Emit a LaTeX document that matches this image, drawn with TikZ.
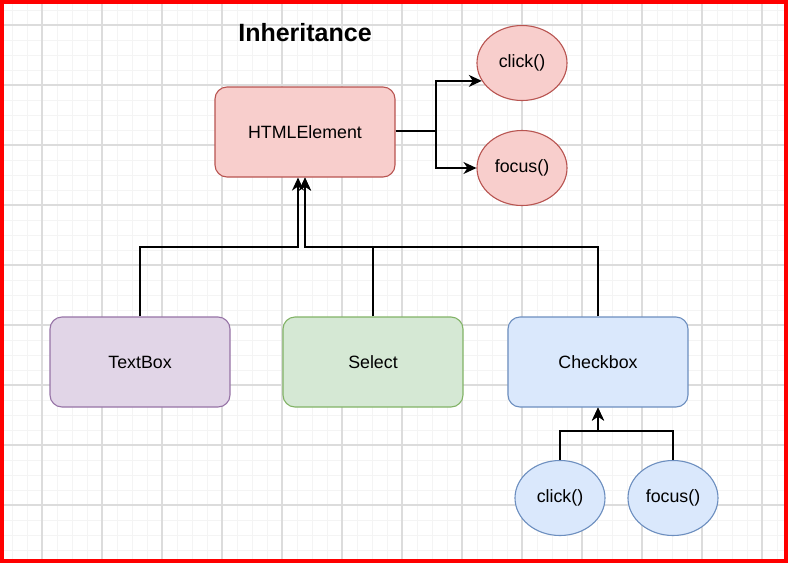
\documentclass[tikz,border=0pt]{standalone}
\usepackage{fontspec}
\setmainfont{Liberation Sans}
\usetikzlibrary{arrows.meta,shapes.geometric}
\definecolor{redfill}{HTML}{F8CECC}
\definecolor{redline}{HTML}{B85450}
\definecolor{purplefill}{HTML}{E1D5E7}
\definecolor{purpleline}{HTML}{9673A6}
\definecolor{greenfill}{HTML}{D5E8D4}
\definecolor{greenline}{HTML}{82B366}
\definecolor{bluefill}{HTML}{DAE8FC}
\definecolor{blueline}{HTML}{6C8EBF}
\definecolor{minorgrid}{HTML}{F4F4F4}
\definecolor{majorgrid}{HTML}{DCDCDC}
\tikzset{
  classbox/.style 2 args={draw=#1,fill=#2,line width=1.1pt,rounded corners=12pt,
    minimum width=180pt,minimum height=90pt,font=\fontsize{17.8}{21}\selectfont},
  method/.style 2 args={ellipse,draw=#1,fill=#2,line width=1.1pt,inner sep=0pt,
    minimum width=90pt,minimum height=75pt,font=\fontsize{17.8}{21}\selectfont},
  inherit/.style={line width=1.4pt,-{Stealth[length=13pt,width=12pt,inset=4pt]}}
}
\begin{document}
\begin{tikzpicture}[x=1pt,y=-1pt]
  \useasboundingbox (0,0) rectangle (788,563);
	\fill[white] (0,0) rectangle (788,563);
	\foreach \x in {12,27,...,777} \draw[minorgrid,line width=0.8pt] (\x,4) -- (\x,559);
	\foreach \y in {10,25,...,550} \draw[minorgrid,line width=0.8pt] (4,\y) -- (784,\y);
	\foreach \x in {42,102,...,762} \draw[majorgrid,line width=1.2pt] (\x,4) -- (\x,559);
	\foreach \y in {25,85,...,505} \draw[majorgrid,line width=1.2pt] (4,\y) -- (784,\y);
	\draw[red,line width=4pt] (2,2) rectangle (786,561);

	\node[font=\bfseries\fontsize{25}{30}\selectfont] (title) at (305,33) {Inheritance};

	\node[classbox={redline}{redfill}] (html) at (305,132) {HTMLElement};
	\node[method={redline}{redfill}] (click1) at (522,63) {click()};
	\node[method={redline}{redfill}] (focus1) at (522,168) {focus()};

	\node[classbox={purpleline}{purplefill}] (textbox) at (140,362) {TextBox};
	\node[classbox={greenline}{greenfill}] (select) at (373,362) {Select};
	\node[classbox={blueline}{bluefill}] (checkbox) at (598,362) {Checkbox};

	\node[method={blueline}{bluefill}] (click2) at (560,498) {click()};
	\node[method={blueline}{bluefill}] (focus2) at (673,498) {focus()};

	\coordinate (split) at (436,131);
	\coordinate (bus) at (305,247);
	\coordinate (cbbus) at (598,431);

	\draw[line width=1.4pt] (html.east |- split) -- (split);
	\draw[inherit] (split) |- (click1.204);
	\draw[inherit] (split) |- (focus1.west);

	\draw[inherit] (textbox.north) |- ([xshift=-7pt]bus) -- ([xshift=-7pt]html.south);
	\draw[inherit] (select.north) |- (bus) -- (html.south);
	\draw[inherit] (checkbox.north) |- (bus) -- (html.south);

	\draw[inherit] (click2.north) |- (cbbus) -- (checkbox.south);
	\draw[inherit] (focus2.north) |- (cbbus) -- (checkbox.south);
\end{tikzpicture}
\end{document}
